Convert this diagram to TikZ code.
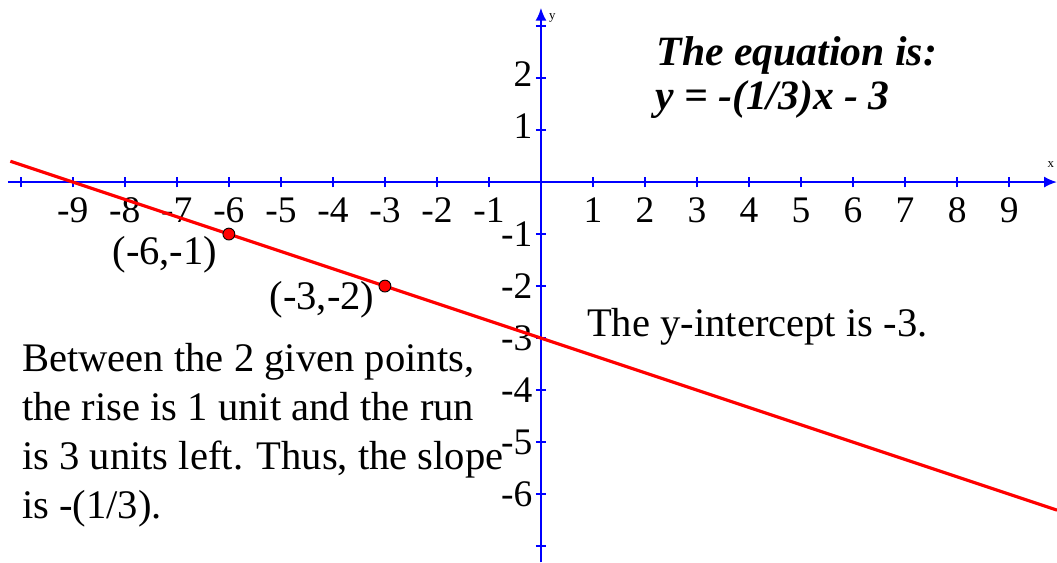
\documentclass[tikz,border=0pt]{standalone}
\usepackage{fontspec}
\setmainfont{Liberation Serif}
\usetikzlibrary{arrows.meta}
\begin{document}
\begin{tikzpicture}[
  axis/.style={blue, line width=1.1pt},
  ticklbl/.style={inner sep=0pt, font=\fontsize{20.5}{24}\selectfont},
  note/.style={inner sep=0pt, align=left, font=\fontsize{22.2}{26.7}\selectfont},
  dot/.style={circle, fill=red, draw=black, line width=0.5pt, inner sep=0pt, minimum size=6.5pt}
]
\useasboundingbox (-10.40,-7.31) rectangle (9.92,3.5);
% axes
\draw[axis, -{Latex[length=7pt,width=6pt]}] (-10.25,0) -- (9.92,0);
\draw[axis, -{Latex[length=7pt,width=6pt]}] (0,-7.31) -- (0,3.35);
\node[inner sep=0pt, font=\scriptsize] (xname) at (9.8,0.33) {x};
\node[inner sep=0pt, font=\scriptsize] (yname) at (0.22,3.15) {y};
% ticks and numbers
\foreach \i in {-10,...,9}
  \draw[axis] (\i,-0.1) -- (\i,0.1);
\foreach \j in {-7,...,3}
  \draw[axis] (-0.1,\j) -- (0.1,\j);
\foreach \i in {-9,...,-1}
  \node[ticklbl] (xl\i) at (\i,-0.54) {-\number\numexpr-\i\relax};
\foreach \i in {1,...,9}
  \node[ticklbl] (xl\i) at (\i,-0.54) {\i};
\foreach \j in {1,2}
  \node[ticklbl, anchor=east] (yl\j) at (-0.16,\j+0.08) {\j};
\foreach \j in {-6,...,-1}
  \node[ticklbl, anchor=east] (yl\j) at (-0.16,\j) {-\number\numexpr-\j\relax};
% the line y = -(1/3)x - 3
\draw[red, line width=1.7pt] (-10.2,0.4) -- (9.92,-6.307);
\node[dot] (p1) at (-6,-1) {};
\node[dot] (p2) at (-3,-2) {};
\node[note] (p1lbl) at (-7.23,-1.40) {(-6,-1)};
\node[note] (p2lbl) at (-4.21,-2.27) {(-3,-2)};
% text
\node[note, anchor=west, font=\fontsize{22.8}{26}\selectfont\bfseries\itshape] (eqn) at (2.22,2.44) {The equation is:};
\node[note, anchor=west, font=\fontsize{22.8}{26}\selectfont\bfseries\itshape] (eqn2) at (2.19,1.58) {y = -(1/3)x - 3};
\node[note, anchor=west] (icpt) at (0.88,-2.79) {The y-intercept is -3.};
\node[note, anchor=west] (slope) at (-9.98,-4.87) {Between the 2 given points,\\the rise is 1 unit and the run\\is 3 units left. Thus, the slope\\is -(1/3).};
\end{tikzpicture}
\end{document}
